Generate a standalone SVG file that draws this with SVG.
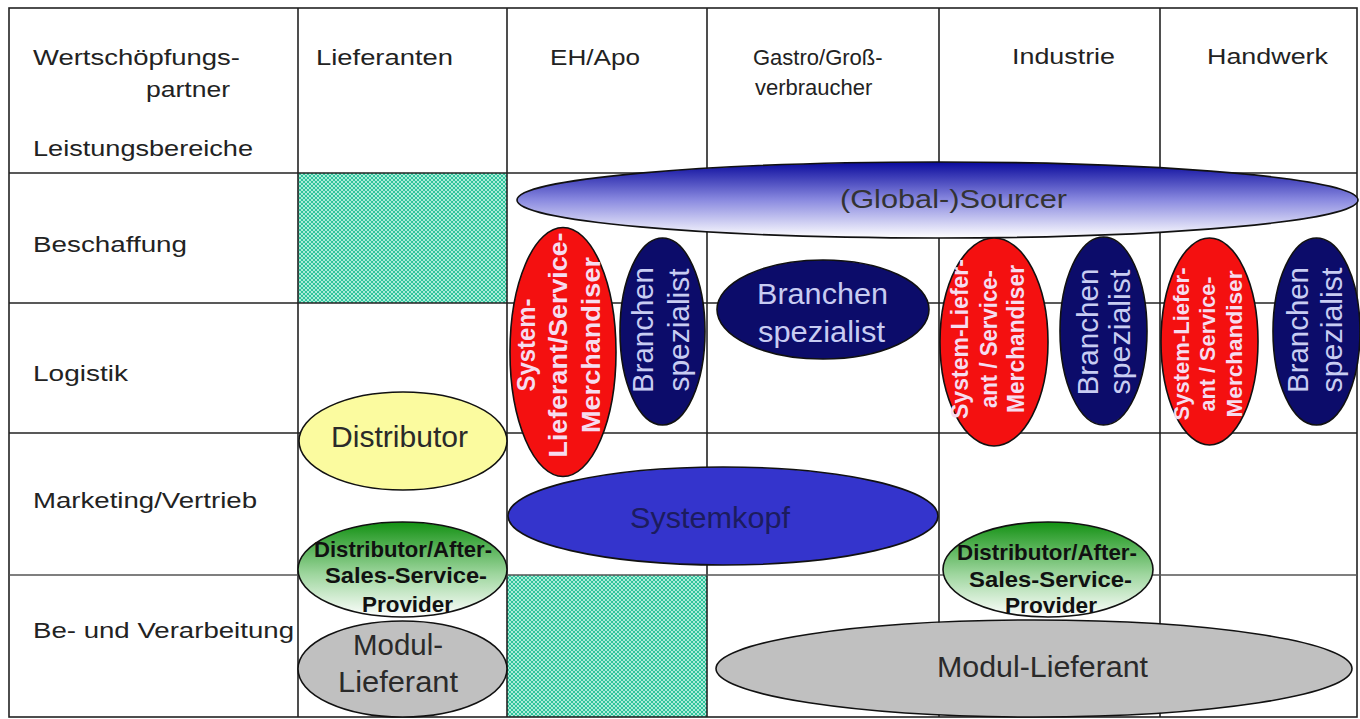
<svg xmlns="http://www.w3.org/2000/svg" width="1360" height="719" viewBox="0 0 1360 719">
<defs>
<pattern id="hatch" width="4" height="4" patternUnits="userSpaceOnUse">
<rect width="4" height="4" fill="#2fc49c"/>
<circle cx="0" cy="0" r="0.9" fill="#e8fff6"/>
<circle cx="4" cy="0" r="0.9" fill="#e8fff6"/>
<circle cx="0" cy="4" r="0.9" fill="#e8fff6"/>
<circle cx="4" cy="4" r="0.9" fill="#e8fff6"/>
<circle cx="2" cy="2" r="0.9" fill="#e8fff6"/>
</pattern>
<linearGradient id="gBlue" x1="0" y1="0" x2="0" y2="1">
<stop offset="0" stop-color="#0a0a9c"/>
<stop offset="0.5" stop-color="#8a8ae0"/>
<stop offset="1" stop-color="#ffffff"/>
</linearGradient>
<linearGradient id="gGreen" x1="0" y1="0" x2="0" y2="1">
<stop offset="0" stop-color="#139113"/>
<stop offset="0.55" stop-color="#9ed69e"/>
<stop offset="1" stop-color="#ffffff"/>
</linearGradient>
<style>
.grid{stroke:#222;stroke-width:1.6;fill:none}
.lbl{font-family:"Liberation Sans",Arial,sans-serif;font-size:22px;fill:#222}
.ell{stroke:#111;stroke-width:1.6}
.red{fill:#f41010}
.navy{fill:#0c0c6a}
.nt{font-family:"Liberation Sans",Arial,sans-serif;font-size:30px;fill:#c8ccf2}
.rt{font-family:"Liberation Sans",Arial,sans-serif;font-weight:bold;fill:#f6dcef}
.bt{font-family:"Liberation Sans",Arial,sans-serif;font-weight:bold;font-size:22px;fill:#111}
.big{font-family:"Liberation Sans",Arial,sans-serif;font-size:30px;fill:#2a2a2a}
</style>
</defs>
<rect width="1360" height="719" fill="#ffffff"/>

<g id="cells">
<rect x="298" y="173" width="209" height="130" fill="url(#hatch)"/>
<rect x="507" y="575" width="200" height="142" fill="url(#hatch)"/>
</g>

<g id="connectors">
<rect class="grid" x="9" y="8" width="1348" height="709"/>
<line class="grid" x1="298" y1="8" x2="298" y2="717"/>
<line class="grid" x1="507" y1="8" x2="507" y2="717"/>
<line class="grid" x1="707" y1="8" x2="707" y2="717"/>
<line class="grid" x1="939" y1="8" x2="939" y2="717"/>
<line class="grid" x1="1160" y1="8" x2="1160" y2="717"/>
<line class="grid" x1="9" y1="173" x2="1357" y2="173"/>
<line class="grid" x1="9" y1="303" x2="1357" y2="303"/>
<line class="grid" x1="9" y1="433" x2="1357" y2="433"/>
<line class="grid" x1="9" y1="575" x2="1357" y2="575" style="stroke:#555"/>
</g>

<g id="header">
<text class="lbl" x="33" y="65" textLength="207" lengthAdjust="spacingAndGlyphs">Wertschöpfungs-</text>
<text class="lbl" x="146" y="97" textLength="84" lengthAdjust="spacingAndGlyphs">partner</text>
<text class="lbl" x="33" y="156" textLength="220" lengthAdjust="spacingAndGlyphs">Leistungsbereiche</text>
<text class="lbl" x="316" y="65" textLength="137" lengthAdjust="spacingAndGlyphs">Lieferanten</text>
<text class="lbl" x="550" y="65" textLength="90" lengthAdjust="spacingAndGlyphs">EH/Apo</text>
<text class="lbl" x="753" y="65">Gastro/Groß-</text>
<text class="lbl" x="755" y="95">verbraucher</text>
<text class="lbl" x="1012" y="64" textLength="103" lengthAdjust="spacingAndGlyphs">Industrie</text>
<text class="lbl" x="1207" y="64" textLength="121" lengthAdjust="spacingAndGlyphs">Handwerk</text>
</g>

<g id="rows">
<text class="lbl" x="33" y="252" textLength="154" lengthAdjust="spacingAndGlyphs">Beschaffung</text>
<text class="lbl" x="33" y="381" textLength="95" lengthAdjust="spacingAndGlyphs">Logistik</text>
<text class="lbl" x="33" y="508" textLength="224" lengthAdjust="spacingAndGlyphs">Marketing/Vertrieb</text>
<text class="lbl" x="33" y="638" textLength="261" lengthAdjust="spacingAndGlyphs">Be- und Verarbeitung</text>
</g>

<g id="sourcer">
<ellipse class="ell" cx="937.5" cy="200" rx="420.5" ry="38" fill="url(#gBlue)"/>
<text x="840" y="208" textLength="227" lengthAdjust="spacingAndGlyphs" style="font-family:'Liberation Sans',Arial,sans-serif;font-size:26px;fill:#333">(Global-)Sourcer</text>
</g>

<g id="sl-eh">
<ellipse class="ell red" cx="563" cy="352" rx="53" ry="124.5"/>
<g transform="translate(0,345) rotate(-90)">
<text class="rt" x="0" y="535" text-anchor="middle" font-size="26" textLength="93" lengthAdjust="spacingAndGlyphs">System-</text>
<text class="rt" x="0" y="567" text-anchor="middle" font-size="26" textLength="225" lengthAdjust="spacingAndGlyphs">Lieferant/Service-</text>
<text class="rt" x="0" y="600" text-anchor="middle" font-size="26" textLength="176" lengthAdjust="spacingAndGlyphs">Merchandiser</text>
</g>
</g>

<g id="bs-eh">
<ellipse class="ell navy" cx="662.5" cy="331.5" rx="42.5" ry="93.5"/>
<g transform="translate(0,330) rotate(-90)">
<text class="nt" x="0" y="653" text-anchor="middle" textLength="126" lengthAdjust="spacingAndGlyphs">Branchen</text>
<text class="nt" x="0" y="689" text-anchor="middle" textLength="123" lengthAdjust="spacingAndGlyphs">spezialist</text>
</g>
</g>

<g id="bs-gastro">
<ellipse class="ell navy" cx="823" cy="309.5" rx="106" ry="49.5"/>
<text class="nt" x="757" y="304" textLength="131" lengthAdjust="spacingAndGlyphs">Branchen</text>
<text class="nt" x="758" y="342" textLength="127" lengthAdjust="spacingAndGlyphs">spezialist</text>
</g>

<g id="sl-ind">
<ellipse class="ell red" cx="994" cy="342" rx="54" ry="104"/>
<g transform="translate(0,339) rotate(-90)">
<text class="rt" x="0" y="968" text-anchor="middle" font-size="23" textLength="160" lengthAdjust="spacingAndGlyphs">System-Liefer-</text>
<text class="rt" x="0" y="997" text-anchor="middle" font-size="23" textLength="138" lengthAdjust="spacingAndGlyphs">ant / Service-</text>
<text class="rt" x="0" y="1024" text-anchor="middle" font-size="23" textLength="148" lengthAdjust="spacingAndGlyphs">Merchandiser</text>
</g>
</g>

<g id="bs-ind">
<ellipse class="ell navy" cx="1103.5" cy="331" rx="43.5" ry="94"/>
<g transform="translate(0,332) rotate(-90)">
<text class="nt" x="0" y="1098" text-anchor="middle" textLength="127" lengthAdjust="spacingAndGlyphs">Branchen</text>
<text class="nt" x="0" y="1130" text-anchor="middle" textLength="125" lengthAdjust="spacingAndGlyphs">spezialist</text>
</g>
</g>

<g id="sl-hw">
<ellipse class="ell red" cx="1209.5" cy="341.5" rx="48.5" ry="103.5"/>
<g transform="translate(0,344) rotate(-90)">
<text class="rt" x="0" y="1189" text-anchor="middle" font-size="22" textLength="153" lengthAdjust="spacingAndGlyphs">System-Liefer-</text>
<text class="rt" x="0" y="1215" text-anchor="middle" font-size="22" textLength="135" lengthAdjust="spacingAndGlyphs">ant / Service-</text>
<text class="rt" x="0" y="1242" text-anchor="middle" font-size="22" textLength="147" lengthAdjust="spacingAndGlyphs">Merchandiser</text>
</g>
</g>

<g id="bs-hw">
<ellipse class="ell navy" cx="1316.5" cy="331.5" rx="43.5" ry="93.5"/>
<g transform="translate(0,330) rotate(-90)">
<text class="nt" x="0" y="1308" text-anchor="middle" textLength="126" lengthAdjust="spacingAndGlyphs">Branchen</text>
<text class="nt" x="0" y="1342" text-anchor="middle" textLength="125" lengthAdjust="spacingAndGlyphs">spezialist</text>
</g>
</g>

<g id="distributor">
<ellipse class="ell" cx="403" cy="441" rx="104" ry="49" fill="#fbfb9f"/>
<text class="big" x="331" y="447" font-size="28" textLength="137" lengthAdjust="spacingAndGlyphs">Distributor</text>
</g>

<g id="systemkopf">
<ellipse class="ell" cx="723" cy="516" rx="215" ry="49" fill="#3434cc"/>
<text x="630" y="528" textLength="160" lengthAdjust="spacingAndGlyphs" style="font-family:'Liberation Sans',Arial,sans-serif;font-size:29px;fill:#1c1c5e">Systemkopf</text>
</g>

<g id="asp-lief">
<ellipse class="ell" cx="402.5" cy="569.5" rx="104.5" ry="47.5" fill="url(#gGreen)"/>
<text class="bt" x="314" y="557" textLength="178" lengthAdjust="spacingAndGlyphs">Distributor/After-</text>
<text class="bt" x="325" y="583" textLength="162" lengthAdjust="spacingAndGlyphs">Sales-Service-</text>
<text class="bt" x="362" y="612" textLength="91" lengthAdjust="spacingAndGlyphs">Provider</text>
</g>

<g id="asp-ind">
<ellipse class="ell" cx="1048" cy="569.5" rx="105" ry="47.5" fill="url(#gGreen)"/>
<text class="bt" x="957" y="560" textLength="180" lengthAdjust="spacingAndGlyphs">Distributor/After-</text>
<text class="bt" x="969" y="587" textLength="163" lengthAdjust="spacingAndGlyphs">Sales-Service-</text>
<text class="bt" x="1005" y="613" textLength="92" lengthAdjust="spacingAndGlyphs">Provider</text>
</g>

<g id="modul-lief">
<ellipse class="ell" cx="402.5" cy="669" rx="104.5" ry="48" fill="#c0c0c0"/>
<text class="big" x="353" y="655" textLength="90" lengthAdjust="spacingAndGlyphs">Modul-</text>
<text class="big" x="338" y="692" textLength="120" lengthAdjust="spacingAndGlyphs">Lieferant</text>
</g>

<g id="modul-big">
<ellipse class="ell" cx="1034" cy="668.5" rx="318" ry="48.5" fill="#c0c0c0"/>
<text class="big" x="937" y="677" textLength="211" lengthAdjust="spacingAndGlyphs">Modul-Lieferant</text>
</g>
</svg>
